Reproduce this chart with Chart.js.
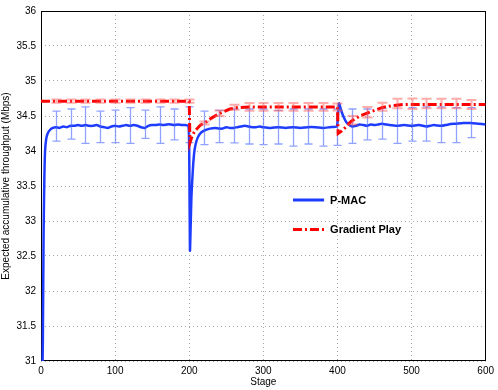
<!DOCTYPE html>
<html lang="en">
<head>
<meta charset="UTF-8">
<title>Expected accumulative throughput</title>
<style>
    body { margin: 0; background: #fff; }
    #wrap { width: 498px; height: 390px; }
</style>
</head>
<body>
<div id="wrap"><canvas id="myChart" width="498" height="390"></canvas></div>

<script src="https://cdn.jsdelivr.net/npm/chart.js"></script>
<script>
    // P-MAC curve
    const pmacStage = [1, 2.5, 3.5, 4.5, 5.5, 7, 9, 12, 16, 20, 25, 30, 35, 40, 45, 50, 55, 60, 65, 70, 75, 80, 85, 90, 95,
        100, 105, 110, 115, 120, 125, 130, 135, 140, 145, 150, 155, 160, 165, 170, 175, 180, 185, 190, 195, 199,
        200, 201, 202, 203, 205, 207, 210, 214, 220, 228, 235, 240, 245, 250, 255, 260, 265, 270, 275, 280, 285, 290, 295,
        300, 310, 320, 330, 340, 350, 360, 370, 380, 390, 399,
        400, 401.5, 402.5, 404, 406, 409, 412, 416, 420, 425, 430, 435, 440, 445, 450, 455, 460, 465, 470, 480, 490,
        500, 510, 520, 525, 530, 540, 550, 560, 570, 580, 590, 600];
    const pmacValue = [30.0, 31.3, 32.8, 33.6, 34.0, 34.17, 34.25, 34.3, 34.33, 34.34, 34.33, 34.35, 34.34, 34.36, 34.36, 34.37, 34.36, 34.37, 34.36, 34.36, 34.37, 34.35, 34.34, 34.33, 34.35,
        34.36, 34.35, 34.36, 34.37, 34.36, 34.37, 34.36, 34.34, 34.33, 34.36, 34.37, 34.37, 34.38, 34.37, 34.38, 34.38, 34.37, 34.38, 34.37, 34.37, 34.36,
        34.0, 32.58, 32.95, 33.35, 33.75, 34.0, 34.15, 34.24, 34.29, 34.32, 34.33, 34.32, 34.32, 34.34, 34.33, 34.33, 34.34, 34.35, 34.36, 34.35, 34.34, 34.34, 34.35,
        34.34, 34.33, 34.34, 34.33, 34.34, 34.33, 34.34, 34.34, 34.33, 34.34, 34.35,
        34.4, 34.63, 34.68, 34.62, 34.55, 34.47, 34.41, 34.37, 34.35, 34.36, 34.38, 34.37, 34.36, 34.38, 34.37, 34.38, 34.39, 34.38, 34.37, 34.36, 34.37,
        34.36, 34.37, 34.35, 34.36, 34.37, 34.36, 34.38, 34.39, 34.4, 34.4, 34.39, 34.38];

    // Gradient Play curve
    const gpStage = [0, 100, 200, 201, 204, 208, 215, 222, 230, 238, 246, 255, 265, 280, 340, 400,
        401, 405, 410, 418, 430, 445, 460, 475, 490, 600];
    const gpValue = [34.71, 34.71, 34.71, 34.12, 34.22, 34.29, 34.37, 34.41, 34.47, 34.52, 34.56, 34.6, 34.62, 34.63, 34.63, 34.63,
        34.25, 34.28, 34.33, 34.42, 34.5, 34.56, 34.62, 34.65, 34.665, 34.665];

    // error bars
    const errStage = [20, 40, 60, 80, 100, 120, 140, 160, 180, 200, 220, 240, 260, 280, 300,
        320, 340, 360, 380, 400, 420, 440, 460, 480, 500, 520, 540, 560, 580];
    const pmacLow = [34.14, 34.17, 34.11, 34.12, 34.12, 34.11, 34.18, 34.11, 34.16, 34.12, 34.09, 34.12, 34.115, 34.1, 34.09,
        34.1, 34.07, 34.1, 34.07, 34.08, 34.11, 34.16, 34.17, 34.11, 34.14, 34.14, 34.12, 34.12, 34.19];
    const pmacHigh = [34.57, 34.6, 34.63, 34.57, 34.585, 34.62, 34.585, 34.63, 34.6, 34.63, 34.57, 34.58, 34.6, 34.6, 34.6,
        34.58, 34.6, 34.6, 34.6, 34.6, 34.6, 34.6, 34.61, 34.65, 34.62, 34.63, 34.63, 34.62, 34.62];
    const gpLow = [34.69, 34.69, 34.69, 34.69, 34.69, 34.69, 34.69, 34.69, 34.69, 34.69, 34.38, 34.5, 34.59, 34.575, 34.575,
        34.575, 34.575, 34.575, 34.575, 34.58, 34.38, 34.48, 34.575, 34.61, 34.6, 34.61, 34.61, 34.61, 34.6];
    const gpHigh = [34.735, 34.735, 34.735, 34.735, 34.735, 34.735, 34.735, 34.735, 34.735, 34.735, 34.42, 34.58, 34.66, 34.685, 34.685,
        34.685, 34.685, 34.685, 34.685, 34.68, 34.5, 34.63, 34.69, 34.745, 34.75, 34.745, 34.745, 34.745, 34.73];

    const xTicks = [0, 100, 200, 300, 400, 500, 600];
    const yTicks = [31, 31.5, 32, 32.5, 33, 33.5, 34, 34.5, 35, 35.5, 36];

    const BLUE = 'rgb(30, 60, 255)';
    const RED = 'rgb(255, 0, 0)';
    const GP_DASH = [9, 3, 2, 3];

    Chart.defaults.font.family = "'Liberation Sans', Arial, sans-serif";
    Chart.defaults.color = '#000';

    function toPoints(xs, ys) {
        return xs.map((x, i) => ({ x: x, y: ys[i] }));
    }

    function drawErrors(chart, low, high, color, width, cap) {
        const ctx = chart.ctx;
        const xs = chart.scales.x;
        const ys = chart.scales.y;
        const a = chart.chartArea;
        ctx.save();
        ctx.beginPath();
        ctx.rect(a.left, a.top, a.right - a.left, a.bottom - a.top);
        ctx.clip();
        ctx.strokeStyle = color;
        ctx.lineWidth = width;
        for (let i = 0; i < errStage.length; i++) {
            const px = Math.round(xs.getPixelForValue(errStage[i])) + 0.5;
            const y1 = ys.getPixelForValue(low[i]);
            const y2 = ys.getPixelForValue(high[i]);
            ctx.beginPath();
            ctx.moveTo(px, y1);
            ctx.lineTo(px, y2);
            ctx.moveTo(px - cap, y1);
            ctx.lineTo(px + cap, y1);
            ctx.moveTo(px - cap, y2);
            ctx.lineTo(px + cap, y2);
            ctx.stroke();
        }
        ctx.restore();
    }

    const errorBars = {
        id: 'errorBars',
        afterDatasetDraw(chart, args) {
            const label = chart.data.datasets[args.index].label;
            if (label === 'P-MAC') {
                drawErrors(chart, pmacLow, pmacHigh, 'rgba(70, 100, 255, 0.6)', 1.3, 4);
            } else {
                drawErrors(chart, gpLow, gpHigh, 'rgba(255, 90, 90, 0.5)', 2, 5);
            }
        }
    };

    const frame = {
        id: 'frame',
        beforeDatasetsDraw(chart) {
            const a = chart.chartArea;
            const ctx = chart.ctx;
            ctx.save();
            ctx.strokeStyle = '#000';
            ctx.lineWidth = 1;
            ctx.strokeRect(Math.round(a.left) + 0.5, Math.round(a.top) + 0.5,
                Math.round(a.right - a.left) - 1, Math.round(a.bottom - a.top) - 1);
            ctx.restore();
        }
    };

    const innerLegend = {
        id: 'innerLegend',
        afterDraw(chart) {
            const ctx = chart.ctx;
            const xs = chart.scales.x;
            const ys = chart.scales.y;
            const x0 = xs.getPixelForValue(340);
            const x1 = xs.getPixelForValue(382);
            const items = [
                { text: 'P-MAC', color: BLUE, dash: [], y: ys.getPixelForValue(33.3), w: 3 },
                { text: 'Gradient Play', color: RED, dash: GP_DASH, y: ys.getPixelForValue(32.88), w: 3 }
            ];
            ctx.save();
            ctx.font = "bold 11px 'Liberation Sans', Arial, sans-serif";
            ctx.textBaseline = 'middle';
            items.forEach(it => {
                ctx.strokeStyle = it.color;
                ctx.lineWidth = it.w;
                ctx.setLineDash(it.dash);
                ctx.beginPath();
                ctx.moveTo(x0, it.y);
                ctx.lineTo(x1, it.y);
                ctx.stroke();
                ctx.setLineDash([]);
                ctx.fillStyle = '#000';
                ctx.fillText(it.text, x1 + 6, it.y + 0.5);
            });
            ctx.restore();
        }
    };

    const ctx = document.getElementById('myChart');

    const config = {
        type: 'line',
        data: {
            datasets: [
                {
                    label: 'Gradient Play',
                    data: toPoints(gpStage, gpValue),
                    borderColor: RED,
                    borderWidth: 3,
                    borderDash: GP_DASH,
                    pointRadius: 0,
                    tension: 0
                },
                {
                    label: 'P-MAC',
                    data: toPoints(pmacStage, pmacValue),
                    borderColor: BLUE,
                    borderWidth: 2.5,
                    pointRadius: 0,
                    tension: 0.2
                }
            ]
        },
        options: {
            responsive: false,
            animation: false,
            devicePixelRatio: 1,
            layout: { padding: { left: 0, top: 10, right: 11, bottom: 0 } },
            plugins: {
                legend: { display: false },
                tooltip: { enabled: false }
            },
            scales: {
                x: {
                    type: 'linear',
                    min: 0,
                    max: 600,
                    afterBuildTicks: s => { s.ticks = xTicks.map(v => ({ value: v })); },
                    afterFit: s => { s.height = 29; },
                    ticks: { font: { size: 10 }, padding: 4, maxRotation: 0, color: '#000' },
                    grid: { color: '#a8a8a8', drawTicks: false, lineWidth: 1 },
                    border: { display: false, dash: [1, 3] },
                    title: { display: true, text: 'Stage', font: { size: 10 }, color: '#000', padding: { top: 0, bottom: 2 } }
                },
                y: {
                    min: 31,
                    max: 36,
                    afterBuildTicks: s => { s.ticks = yTicks.map(v => ({ value: v })); },
                    afterFit: s => { s.width = 41; },
                    ticks: { font: { size: 10 }, padding: 5, color: '#000', callback: v => String(v) },
                    grid: { color: '#a8a8a8', drawTicks: false, lineWidth: 1 },
                    border: { display: false, dash: [1, 3] },
                    title: { display: true, text: 'Expected accumulative throughput (Mbps)', font: { size: 10 }, color: '#000', padding: 0 }
                }
            }
        },
        plugins: [frame, errorBars, innerLegend]
    };

    const myChart = new Chart(ctx, config);
</script>
</body>
</html>
